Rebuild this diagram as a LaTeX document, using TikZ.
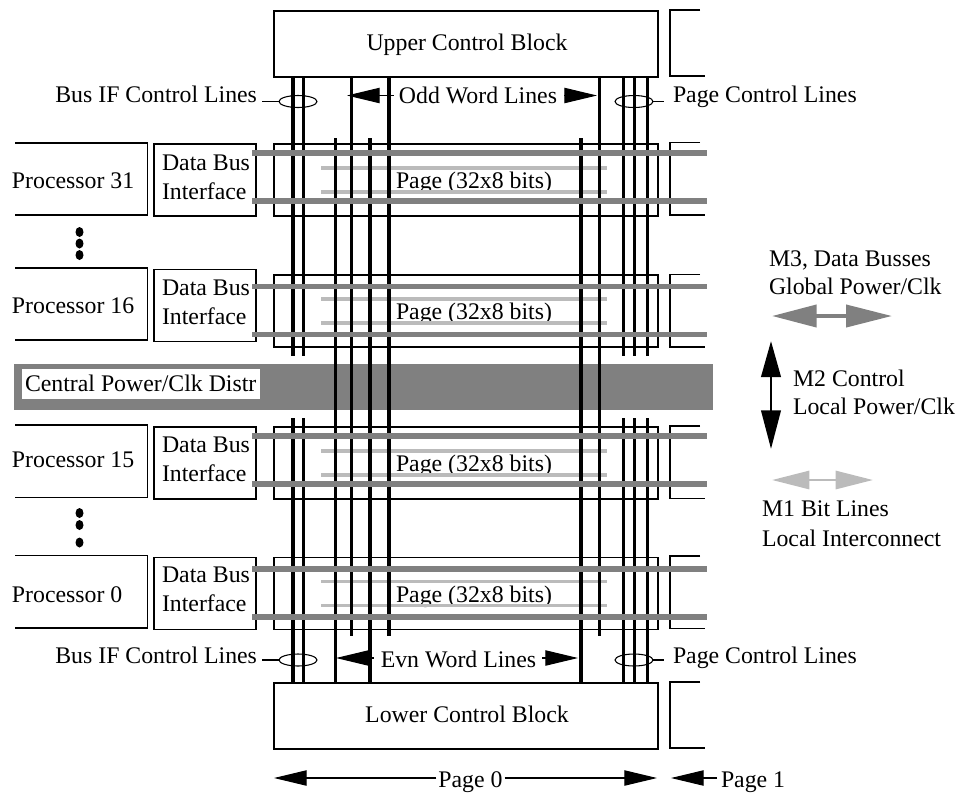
\documentclass[tikz,border=0pt]{standalone}
\usepackage{fontspec}
\setmainfont{Liberation Serif}
\usetikzlibrary{arrows.meta,shapes.geometric}
\definecolor{busgray}{HTML}{808080}
\definecolor{bitgray}{HTML}{BBBBBB}
\tikzset{
  x=0.75pt,y=-0.75pt,
  every node/.style={font=\fontsize{17.85pt}{21pt}\selectfont,inner sep=0pt,outer sep=0pt},
  block/.style={draw=black,line width=0.8pt,fill=white,minimum width=288pt,minimum height=49.5pt,anchor=north west},
  pagebox/.style={draw=black,line width=0.8pt,minimum width=288pt,minimum height=54pt,anchor=north west},
  dbbox/.style={draw=black,line width=0.8pt,fill=white,minimum width=76.5pt,minimum height=54pt,anchor=north west},
  openline/.style={draw=black,line width=0.8pt},
  m3/.style={draw=busgray,line width=3.9pt},
  m1/.style={draw=bitgray,line width=2.5pt},
  m2/.style={draw=black,line width=2.3pt},
  ring/.style={draw=black,line width=0.8pt,ellipse,minimum width=28.5pt,minimum height=9pt},
  lead/.style={draw=black,line width=0.8pt},
  blk/.style={-{Triangle[length=24.5pt,width=11.5pt,fill=black]},draw=black,line width=0.8pt},
  lbl/.style={anchor=base},
  lbll/.style={anchor=base west},
  lblr/.style={anchor=base east},
  dot/.style={fill=black,draw=none,ellipse,minimum width=6pt,minimum height=7.5pt},
  legthree/.style={{Triangle[length=33.5pt,width=16.5pt]}-{Triangle[length=34.5pt,width=16.5pt]},draw=busgray,fill=busgray,line width=3pt},
  legtwo/.style={{Triangle[length=27pt,width=14.5pt]}-{Triangle[length=29pt,width=14.5pt]},draw=black,fill=black,line width=2.2pt},
  legone/.style={{Triangle[length=28pt,width=13.5pt]}-{Triangle[length=28pt,width=13.5pt]},draw=bitgray,fill=bitgray,line width=2.2pt},
}
\begin{document}
\begin{tikzpicture}
\useasboundingbox (0,0) rectangle (957,794);
% central bar
\node[fill=busgray,minimum width=524.25pt,minimum height=34.5pt,anchor=north west] (bar) at (14,364) {};
\node[fill=white,minimum width=178.5pt,minimum height=22.5pt,anchor=north west] (barlabel) at (22,369) {};
\node[lbll] (bartext) at (25,391) {Central Power/Clk Distr};
% control blocks
\node[block] (upper) at (274,11) {};
\node[lbl] at (467,50) {Upper Control Block};
\node[block] (lower) at (274,683) {};
\node[lbl] at (467,722) {Lower Control Block};
% open-sided boxes
\foreach \t/\n/\b/\h in {143/31/188/72,268/16/313/72,425/15/467/72.5,555.5/0/602/72.5}{
  \draw[openline] (15,\t) -- (147.5,\t) -- (147.5,\t+\h) -- (15,\t+\h);
  \node[lbll] at (12,\b) {Processor \n};
}
\foreach \t/\hh in {10/66,142.5/72.5,274.5/72.5,426/72.5,556/72.5,682/66}{
  \draw[openline] (700,\t) -- (670,\t) -- (670,\t+\hh) -- (705,\t+\hh);
}
% data bus interface boxes and pages
\foreach \t/\a/\b in {144/170/199,269.5/295/324,427/452/481,557.5/582/611}{
  \node[dbbox] at (154,\t) {};
  \node[lbll] at (162,\a) {Data Bus};
  \node[lbll] at (162,\b) {Interface};
}
\foreach \t in {144,275,427,557.5}{
  \node[pagebox] at (274,\t) {};
  \node[lbl] at (474,\t+44.5) {Page (32x8 bits)};
  \draw[m1] (321,\t+24) -- (607,\t+24);
  \draw[m1] (321,\t+48) -- (607,\t+48);
}
% vertical control lines
\foreach \x in {293,303.5,623.5,634.5,647.5}{
  \draw[m2] (\x,77) -- (\x,356);
  \draw[m2] (\x,418) -- (\x,683);
}
\foreach \x in {351.5,389,599.5}{\draw[m2] (\x,77) -- (\x,636);}
\foreach \x in {335.5,370,581}{\draw[m2] (\x,138) -- (\x,683);}
% M3 data busses
\foreach \t in {153,201,286.5,334.5,436,484,569,617}{
  \draw[m3] (252,\t) -- (707,\t);
}
% dots
\foreach \y in {232,243.5,255,513,525,542.5}{\node[dot] at (79.5,\y) {};}
% rings and labels
\node[lblr] at (257,102) {Bus IF Control Lines};
\node[lbll] at (673,102) {Page Control Lines};
\node[lblr] at (257,663) {Bus IF Control Lines};
\node[lbll] at (673,663) {Page Control Lines};
\node[ring] (ring1) at (298,101.5) {};
\node[ring] (ring2) at (634,101.5) {};
\node[ring] (ring3) at (298,660) {};
\node[ring] (ring4) at (634,660) {};
\coordinate (l1) at (262,101.5);\coordinate (l2) at (664,101.5);
\coordinate (l3) at (262,660);\coordinate (l4) at (664,660);
\draw[lead] (l1) -- (ring1);\draw[lead] (ring2) -- (l2);
\draw[lead] (l3) -- (ring3);\draw[lead] (ring4) -- (l4);
% word-line arrows
\node[lbl] (odd) at (478,103) {Odd Word Lines};
\coordinate (oa) at (347,95.5);\coordinate (ob) at (597,95.5);
\draw[blk] (odd.west |- oa) ++(-5,0) -- (oa);
\draw[blk] (odd.east |- ob) ++(7,0) -- (ob);
\node[lbl] (evn) at (458.5,667) {Evn Word Lines};
\coordinate (ea) at (336,658);\coordinate (eb) at (578,658);
\draw[blk] (evn.west |- ea) ++(-7,0) -- (ea);
\draw[blk] (evn.east |- eb) ++(6,0) -- (eb);
% page arrows
\node[lbl] (p0) at (470.5,787) {Page 0};
\coordinate (pa) at (274,778);\coordinate (pb) at (657,778);\coordinate (pc) at (671,778);\coordinate (pd) at (717,778);
\draw[blk] (p0.west |- pa) ++(-2,0) -- (pa);
\draw[blk] (p0.east |- pb) ++(2,0) -- (pb);
\draw[blk] (pd) -- (pc);
\node[lbll] at (721,787) {Page 1};
% legend
\coordinate (t1) at (772,316);\coordinate (t2) at (892,316);
\draw[legthree] (t1) -- (t2);
\coordinate (u1) at (771,341);\coordinate (u2) at (771,449);
\draw[legtwo] (u1) -- (u2);
\coordinate (v1) at (772,480);\coordinate (v2) at (873,480);
\draw[legone] (v1) -- (v2);
\node[lbll] at (769,266) {M3, Data Busses};
\node[lbll] at (769,294) {Global Power/Clk};
\node[lbll] at (793,386) {M2 Control};
\node[lbll] at (793,414) {Local Power/Clk};
\node[lbll] at (762,516) {M1 Bit Lines};
\node[lbll] at (762,546) {Local Interconnect};
\end{tikzpicture}
\end{document}
